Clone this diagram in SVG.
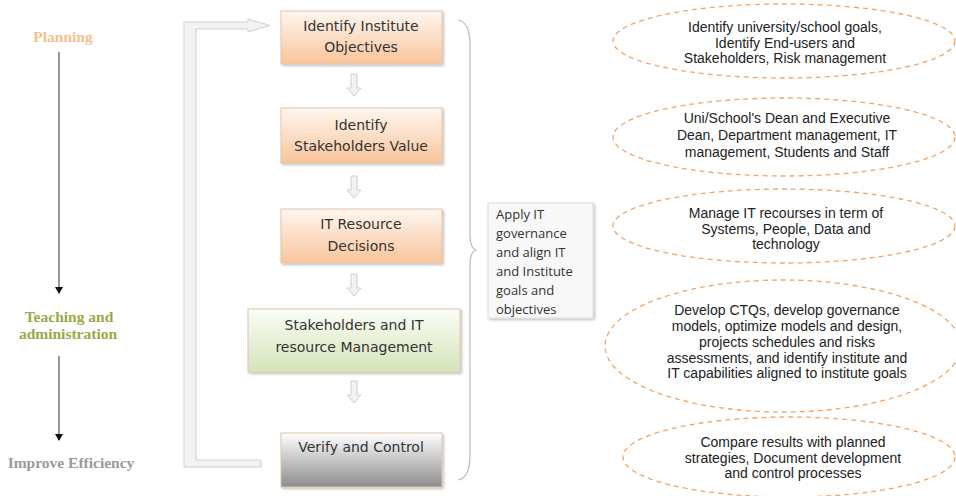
<svg xmlns="http://www.w3.org/2000/svg" width="956" height="496" viewBox="0 0 956 496">
<defs>
<linearGradient id="gOr" x1="0" y1="0" x2="0" y2="1"><stop offset="0" stop-color="#fff6ef"/><stop offset="1" stop-color="#f9c59c"/></linearGradient>
<linearGradient id="gGr" x1="0" y1="0" x2="0" y2="1"><stop offset="0" stop-color="#fbfdf7"/><stop offset="1" stop-color="#d4e4b8"/></linearGradient>
<linearGradient id="gGy" x1="0" y1="0" x2="0" y2="1"><stop offset="0" stop-color="#ffffff"/><stop offset="1" stop-color="#8c8c8c"/></linearGradient>
<marker id="ah" markerWidth="8" markerHeight="8" refX="6" refY="4" orient="auto" markerUnits="userSpaceOnUse"><path d="M0,0 L7,4 L0,8 Z" fill="#111"/></marker>
<filter id="sh" x="-10%" y="-10%" width="130%" height="130%"><feDropShadow dx="1.5" dy="1.5" stdDeviation="1" flood-color="#000" flood-opacity="0.25"/></filter>
<path id="dn" d="M-3,0 H3 V14 H7 L0,22 L-7,14 H-3 Z"/>
</defs>
<style>
.box{stroke:#e0c4a8;stroke-width:1;filter:url(#sh)}
.bt{font-family:"DejaVu Sans",sans-serif;font-size:14px;fill:#333;text-anchor:middle}
.el{fill:none;stroke:#f4a466;stroke-width:1.3;stroke-dasharray:5 4}
.et{font-family:"Liberation Sans",Arial,sans-serif;font-size:14px;fill:#222;text-anchor:middle}
.lt{font-family:"Liberation Serif","Times New Roman",serif;font-weight:bold;font-size:15.5px;text-anchor:middle}
.ar{fill:#f2f2f2;stroke:#cfcfcf;stroke-width:1}
</style>
<rect width="956" height="496" fill="#ffffff"/>

<g id="timeline">
<text class="lt" x="63" y="42" fill="#f7c08f">Planning</text>
<line x1="59" y1="52" x2="59" y2="293" stroke="#555" stroke-width="1.2" marker-end="url(#ah)"/>
<text class="lt" x="69" y="322" fill="#9aa848">Teaching and</text>
<text class="lt" x="68" y="339" fill="#9aa848">administration</text>
<line x1="59" y1="356" x2="59" y2="440" stroke="#555" stroke-width="1.2" marker-end="url(#ah)"/>
<text class="lt" x="71" y="468" fill="#9a9a9a">Improve Efficiency</text>
</g>

<g id="connectors">
<path class="ar" d="M184,22 H248 V19 L270,25.5 L248,32 V29 H196 V460 H261 V467 H184 Z"/>
<use href="#dn" x="354" y="74" class="ar"/>
<use href="#dn" x="354" y="176" class="ar"/>
<use href="#dn" x="354" y="274" class="ar"/>
<use href="#dn" x="354" y="381" class="ar"/>
<path d="M458,20 Q470,22 470,45 V235 Q470,248 476,250 Q470,252 470,265 V455 Q470,478 458,480" fill="none" stroke="#bbbbbb" stroke-width="1.2"/>
</g>

<g id="n1"><rect class="box" x="281" y="11" width="161" height="53" fill="url(#gOr)"/>
<text class="bt" x="361" y="31">Identify Institute</text><text class="bt" x="361" y="52">Objectives</text></g>
<g id="n2"><rect class="box" x="281" y="108" width="161" height="55" fill="url(#gOr)"/>
<text class="bt" x="361" y="130">Identify</text><text class="bt" x="361" y="151">Stakeholders Value</text></g>
<g id="n3"><rect class="box" x="281" y="209" width="161" height="54" fill="url(#gOr)"/>
<text class="bt" x="361" y="229">IT Resource</text><text class="bt" x="361" y="251">Decisions</text></g>
<g id="n4"><rect class="box" x="248" y="309" width="212" height="63" fill="url(#gGr)" stroke="#cfdcb8"/>
<text class="bt" x="354" y="330">Stakeholders and IT</text><text class="bt" x="354" y="352">resource Management</text></g>
<g id="n5"><rect class="box" x="281" y="433" width="161" height="54" fill="url(#gGy)" stroke="#888"/>
<text class="bt" x="361" y="452">Verify and Control</text></g>

<g id="note"><rect x="488" y="203" width="105" height="115" fill="#f8f8f8" stroke="#dddddd" filter="url(#sh)"/>
<g font-family="Open Sans, sans-serif" font-size="13px" fill="#333">
<text x="496" y="219">Apply IT</text>
<text x="496" y="238">governance</text>
<text x="496" y="257">and align IT</text>
<text x="496" y="276">and Institute</text>
<text x="496" y="295">goals and</text>
<text x="496" y="314">objectives</text>
</g></g>

<g id="e1"><ellipse class="el" cx="784" cy="41" rx="171" ry="37"/>
<text class="et" x="785" y="32">Identify university/school goals,</text>
<text class="et" x="785" y="48">Identify End-users and</text>
<text class="et" x="785" y="63">Stakeholders, Risk management</text></g>
<g id="e2"><ellipse class="el" cx="784" cy="137" rx="171" ry="39"/>
<text class="et" x="787" y="123">Uni/School's Dean and Executive</text>
<text class="et" x="787" y="140">Dean, Department management, IT</text>
<text class="et" x="787" y="157">management, Students and Staff</text></g>
<g id="e3"><ellipse class="el" cx="784" cy="226" rx="171" ry="37"/>
<text class="et" x="786" y="218">Manage IT recourses in term of</text>
<text class="et" x="786" y="234">Systems, People, Data and</text>
<text class="et" x="786" y="249">technology</text></g>
<g id="e4"><ellipse class="el" cx="783" cy="346" rx="178" ry="66"/>
<text class="et" x="787" y="315">Develop CTQs, develop governance</text>
<text class="et" x="787" y="331">models, optimize models and design,</text>
<text class="et" x="787" y="347">projects schedules and risks</text>
<text class="et" x="787" y="363">assessments, and identify institute and</text>
<text class="et" x="787" y="378">IT capabilities aligned to institute goals</text></g>
<g id="e5"><ellipse class="el" cx="789" cy="457" rx="166" ry="40"/>
<text class="et" x="793" y="447">Compare results with planned</text>
<text class="et" x="793" y="463">strategies, Document development</text>
<text class="et" x="793" y="478">and control processes</text></g>
</svg>
